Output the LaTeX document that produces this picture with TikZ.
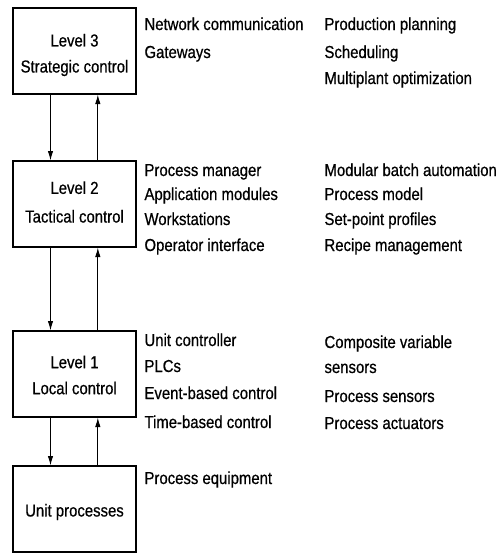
\documentclass[tikz,border=0pt]{standalone}
\usepackage{fontspec}
\setmainfont{Liberation Sans}[FakeStretch=0.86,FakeBold=0.6]
\usetikzlibrary{arrows.meta}

\tikzset{every picture/.style={line width=0.75pt}}
\tikzset{
  levelbox/.style={draw, line width=1.5pt, minimum width=92pt, minimum height=64pt, inner sep=0pt},
  boxlabel/.style={inner sep=0pt, align=center, font=\fontsize{13}{19.5}\selectfont},
  itemtext/.style={anchor=base west, inner sep=0.75pt, font=\fontsize{13}{16}\selectfont},
  flow/.style={-{Latex[length=7pt,width=4pt]}, line width=0.6pt}
}

\begin{document}
\begin{tikzpicture}[x=0.75pt,y=0.75pt,yscale=-1,xscale=1]
  \useasboundingbox (0,0) rectangle (496,554);

  % Level boxes
  \node [levelbox] (lvlthree) at (74.5,51) {};
  \node [levelbox] (lvltwo) at (74.5,204) {};
  \node [levelbox] (lvlone) at (74.5,374) {};
  \node [levelbox] (unitproc) at (74.5,509) {};

  % Box labels
  \node [boxlabel] (lvlthreelbl) at (74.5,55) {Level 3\\Strategic control};
  \node [boxlabel] (lvltwolbl) at (74.5,202) {Level 2\\[2pt]Tactical control};
  \node [boxlabel] (lvlonelbl) at (74.5,375) {Level 1\\Local control};
  \node [boxlabel] (unitproclbl) at (74.5,512) {Unit processes};

  % Arrows between levels
  \draw [flow] ([xshift=-18pt]lvlthree.south) -- ([xshift=-18pt]lvltwo.north);
  \draw [flow] ([xshift=17.5pt]lvltwo.north) -- ([xshift=17.5pt]lvlthree.south);
  \draw [flow] ([xshift=-18pt]lvltwo.south) -- ([xshift=-18pt]lvlone.north);
  \draw [flow] ([xshift=17.5pt]lvlone.north) -- ([xshift=17.5pt]lvltwo.south);
  \draw [flow] ([xshift=-18pt]lvlone.south) -- ([xshift=-18pt]unitproc.north);
  \draw [flow] ([xshift=17.5pt]unitproc.north) -- ([xshift=17.5pt]lvlone.south);

  % Text Node: level 3
  \node [itemtext] (netcom) at (143,30) {Network communication};
  \node [itemtext] (gateways) at (143,58) {Gateways};
  \node [itemtext] (prodplan) at (323,30) {Production planning};
  \node [itemtext] (sched) at (323,58) {Scheduling};
  \node [itemtext] (multiopt) at (323,84) {Multiplant optimization};

  % Text Node: level 2
  \node [itemtext] (procman) at (143,176) {Process manager};
  \node [itemtext] (appmod) at (143,200) {Application modules};
  \node [itemtext] (workst) at (143,225) {Workstations};
  \node [itemtext] (opint) at (143,251) {Operator interface};
  \node [itemtext] (batchauto) at (323,176) {Modular batch automation};
  \node [itemtext] (procmodel) at (323,200) {Process model};
  \node [itemtext] (setpoint) at (323,225) {Set-point profiles};
  \node [itemtext] (recipe) at (323,251) {Recipe management};

  % Text Node: level 1
  \node [itemtext] (unitctrl) at (143,346) {Unit controller};
  \node [itemtext] (plcs) at (143,372) {PLCs};
  \node [itemtext] (eventctrl) at (143,399) {Event-based control};
  \node [itemtext] (timectrl) at (143,428) {Time-based control};
  \node [itemtext] (compvar) at (323,348) {Composite variable};
  \node [itemtext] (sensors) at (323,373) {sensors};
  \node [itemtext] (procsens) at (323,402) {Process sensors};
  \node [itemtext] (procact) at (323,429) {Process actuators};

  % Text Node: unit processes
  \node [itemtext] (procequip) at (143,484) {Process equipment};

\end{tikzpicture}
\end{document}
